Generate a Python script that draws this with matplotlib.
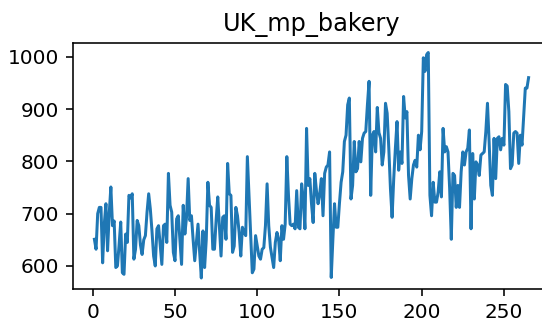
import numpy as np
import matplotlib
matplotlib.use("Agg")
import matplotlib.pyplot as plt

title = "UK_mp_bakery"

sales = [
    651, 632, 700, 712, 712, 606, 680, 719, 629, 700, 751, 677, 686, 597, 600, 640, 684, 587, 584, 661,
    645, 735, 730, 738, 613, 632, 687, 677, 640, 622, 650, 658, 703, 738,
    709, 667, 619, 600, 671, 677, 640, 603, 677, 680, 645, 777, 716, 703, 626, 610, 690, 696, 650, 603,
    716, 661, 693, 767, 687, 696, 651, 610, 645, 680, 626, 577, 667, 597, 650, 760, 716, 712, 632, 632,
    687, 732, 677, 619, 693,
    696, 651, 796, 738, 735, 626, 638, 712, 696, 664, 619, 674, 664, 658, 809, 735, 658, 587, 594, 658,
    638, 619, 613, 632, 635, 677, 757, 677, 636, 616, 597, 645, 664, 651, 610, 677, 651, 680, 809, 735,
    680, 677, 680, 671, 744, 674, 671,
    757, 728, 671, 863, 754, 767, 719, 683, 777, 744, 719, 738, 767, 696, 777, 789, 793, 818, 578, 651,
    719, 674, 674, 720, 760, 780, 838, 850, 908, 921, 728, 754, 838, 780, 786, 838, 799, 844, 854, 857,
    908, 953, 735, 850, 857, 818, 903,
    855, 844, 793, 818, 911, 892, 825, 748, 693, 767, 825, 876, 783, 818, 796, 924, 883, 895, 773, 728,
    767, 793, 802, 789, 850, 822, 857, 998, 972, 1004, 1008, 735, 696, 760, 722, 722, 741, 780, 732, 863,
    818, 828, 818, 748, 651, 777, 773,
    712, 754, 712, 780, 818, 793, 818, 825, 860, 671, 815, 728, 799, 793, 773, 812, 815, 818, 857, 911,
    838, 754, 735, 844, 767, 844, 847, 822, 844, 831, 947, 944, 895, 786, 793, 854, 857, 854, 796, 850,
    831, 886, 940, 940, 960,
]
x_index = np.arange(1, len(sales) + 1)

x_ticks = [0, 50, 100, 150, 200, 250]
y_ticks = [600, 700, 800, 900, 1000]

W, H, DPI = 542, 322, 144
fig = plt.figure(figsize=(W / DPI, H / DPI), dpi=DPI)
left, right, bottom, top = 72.7, 550.3, 32.7, 279.3
ax = fig.add_axes([left / W, bottom / H, (right - left) / W, (top - bottom) / H])
ax.plot(x_index, sales, color="#1f77b4", linewidth=1.5)
ax.set_xlim(-12.2, 278.2)
ax.set_ylim(555.4, 1026.8)
ax.set_xticks(x_ticks)
ax.set_yticks(y_ticks)
ax.set_title(title, fontsize=12)
fig.savefig("out.png", dpi=DPI)
